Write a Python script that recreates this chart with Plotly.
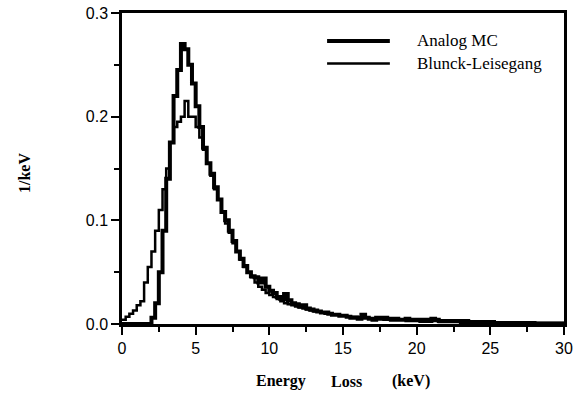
import numpy as np
import plotly.graph_objects as go

# Histogram bins: 0.25 keV wide, 0..30 keV
bin_width = 0.25
edges = np.arange(0, 30 + bin_width / 2, bin_width)

analog_mc = [
    0, 0, 0, 0, 0, 0, 0, 0,
    0.006, 0.02, 0.05, 0.09, 0.14, 0.175, 0.22, 0.245,
    0.27, 0.265, 0.25, 0.232, 0.21, 0.19, 0.17, 0.155,
    0.145, 0.132, 0.12, 0.108, 0.1, 0.09, 0.08, 0.07,
    0.063, 0.056, 0.05, 0.046, 0.045, 0.04, 0.044, 0.036,
    0.032, 0.03, 0.026, 0.024, 0.029, 0.023, 0.02, 0.019,
    0.017, 0.018, 0.015, 0.014, 0.013, 0.012, 0.011, 0.011,
    0.010, 0.009, 0.009, 0.008, 0.008, 0.007, 0.006, 0.006,
    0.005, 0.009, 0.006, 0.005, 0.004, 0.006, 0.005, 0.006,
    0.005, 0.004, 0.005, 0.004, 0.004, 0.005, 0.004, 0.004,
    0.004, 0.003, 0.004, 0.003, 0.005, 0.004, 0.003, 0.003,
    0.003, 0.003, 0.003, 0.003, 0.002, 0.003, 0.002, 0.002,
    0.002, 0.002, 0.002, 0.002, 0.002, 0.001, 0.001, 0.001,
    0.001, 0.001, 0.001, 0.001, 0.001, 0.001, 0.001, 0.001,
    0.0005, 0.0005, 0.0005, 0.0005, 0.0005, 0.0005, 0.0005, 0.0005,
]

blunck_leisegang = [
    0.004, 0.007, 0.01, 0.013, 0.018, 0.022, 0.04, 0.055,
    0.07, 0.09, 0.11, 0.13, 0.15, 0.175, 0.19, 0.195,
    0.2, 0.215, 0.2, 0.2, 0.19, 0.18, 0.168, 0.155,
    0.143, 0.13, 0.12, 0.108, 0.097, 0.088, 0.078, 0.07,
    0.062, 0.055, 0.05, 0.045, 0.04, 0.036, 0.033, 0.03,
    0.028, 0.026, 0.024, 0.022, 0.02, 0.019, 0.018, 0.017,
    0.016, 0.015, 0.014, 0.013, 0.012, 0.012, 0.011, 0.010,
    0.010, 0.009, 0.009, 0.008, 0.008, 0.007, 0.007, 0.007,
    0.006, 0.006, 0.006, 0.005, 0.005, 0.005, 0.005, 0.004,
    0.004, 0.004, 0.004, 0.004, 0.004, 0.003, 0.003, 0.003,
    0.003, 0.003, 0.003, 0.003, 0.003, 0.003, 0.002, 0.002,
    0.002, 0.002, 0.002, 0.002, 0.002, 0.002, 0.002, 0.002,
    0.002, 0.002, 0.0015, 0.0015, 0.0015, 0.0015, 0.0015, 0.0015,
    0.001, 0.001, 0.001, 0.001, 0.001, 0.001, 0.001, 0.001,
    0.001, 0.001, 0.001, 0.001, 0.001, 0.001, 0.001, 0.001,
]

series_names = ["Analog MC", "Blunck-Leisegang"]


def step_xy(vals):
    return list(edges), list(vals) + [vals[-1]]


fig = go.Figure()
x1, y1 = step_xy(blunck_leisegang)
fig.add_trace(go.Scatter(x=x1, y=y1, mode="lines", line=dict(shape="hv", color="black", width=2.5),
                         name=series_names[1], showlegend=False))
x0, y0 = step_xy(analog_mc)
fig.add_trace(go.Scatter(x=x0, y=y0, mode="lines", line=dict(shape="hv", color="black", width=4),
                         name=series_names[0], showlegend=False))

serif = "Liberation Serif, Times New Roman, serif"
sans = "Liberation Sans, Arial, sans-serif"

# Legend drawn as lines + text in paper coordinates
legend_rows = [(0.91, 4, series_names[0]), (0.838, 2.5, series_names[1])]
for yy, w, name in legend_rows:
    fig.add_shape(type="line", xref="paper", yref="paper", x0=0.464, x1=0.606, y0=yy, y1=yy,
                  line=dict(color="black", width=w))
    fig.add_annotation(xref="paper", yref="paper", x=0.663, y=yy, text=name, showarrow=False,
                       xanchor="left", yanchor="middle", font=dict(family=serif, size=17, color="black"))

# Axis titles
for word, px in [("Energy", 281), ("Loss", 346), ("(keV)", 411)]:
    fig.add_annotation(xref="paper", yref="paper", x=(px - 122) / 442, y=(324 - 381) / 311,
                       text="<b>%s</b>" % word, showarrow=False, xanchor="center", yanchor="middle",
                       font=dict(family=serif, size=16, color="black"))
fig.add_annotation(xref="paper", yref="paper", x=(24 - 122) / 442, y=(324 - 173) / 311,
                   text="<b>1/keV</b>", showarrow=False, textangle=-90, xanchor="center",
                   yanchor="middle", font=dict(family=serif, size=16, color="black"))

axis_common = dict(showline=True, linecolor="black", linewidth=2.5, mirror=True, ticks="outside",
                   ticklen=8, tickwidth=2, tickcolor="black", showgrid=False, zeroline=False,
                   automargin=False, tickfont=dict(family=sans, size=16, color="black"))

fig.update_xaxes(range=[0, 30], tick0=0, dtick=5,
                 minor=dict(dtick=2.5, ticks="outside", ticklen=5, tickwidth=2, tickcolor="black"),
                 **axis_common)
fig.update_yaxes(range=[0, 0.3], tick0=0, dtick=0.1, tickformat=".1f",
                 minor=dict(dtick=0.05, ticks="outside", ticklen=5, tickwidth=2, tickcolor="black"),
                 **axis_common)

fig.update_layout(width=577, height=393, margin=dict(l=122, r=13, t=13, b=69, autoexpand=False),
                  plot_bgcolor="white", paper_bgcolor="white", showlegend=False)

fig.write_html("out.html")
